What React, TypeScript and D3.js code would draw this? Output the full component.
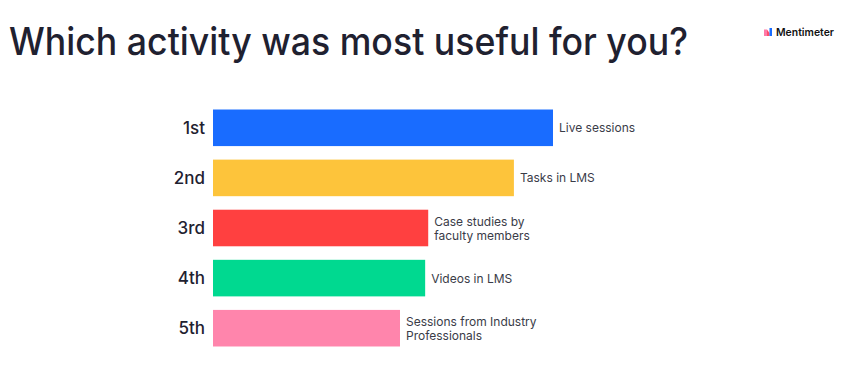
import * as d3 from 'd3';

// ranking results (relative score)
const ranks = ['1st', '2nd', '3rd', '4th', '5th'];
const options = [
  ['Live sessions'],
  ['Tasks in LMS'],
  ['Case studies by', 'faculty members'],
  ['Videos in LMS'],
  ['Sessions from Industry', 'Professionals'],
];
const scores = [100, 88.5, 63.3, 62.4, 55];
const colors = ['#196cff', '#fdc43b', '#ff4040', '#00d990', '#ff85ac'];

const W = 845;
const H = 391;

export default function App() {
  const x = d3.scaleLinear().domain([0, 100]).range([213, 553]);
  const y = d3.scaleBand<number>().domain(d3.range(ranks.length)).range([103, 353]).paddingInner(0.27).paddingOuter(0.13);

  return (
    <svg width={W} height={H} style={{ position: 'absolute', left: 0, top: 0, background: '#fff' }}
      fontFamily="Inter, 'Noto Sans', sans-serif">
      <text x={9} y={55} fontSize={38} fill="#1f2130" fontWeight={500}
        textLength={679} lengthAdjust="spacingAndGlyphs">
        Which activity was most useful for you?
      </text>

      {/* Mentimeter logo */}
      <g transform="translate(764,28)">
        <rect x={0} y={1.5} width={3} height={6.5} fill="#ff7aa8" />
        <path d="M3,1.5 L5.5,5 L5.5,8 L3,8 Z" fill="#ff4d6d" />
        <rect x={5.5} y={0} width={2.5} height={8} fill="#196cff" />
      </g>
      <text x={776} y={36} fontSize={11} fill="#101010" fontWeight={600}
        textLength={58} lengthAdjust="spacingAndGlyphs">Mentimeter</text>

      {ranks.map((r, i) => {
        const y0 = y(i)!;
        const bh = y.bandwidth();
        const cy = y0 + bh / 2;
        const lines = options[i];
        return (
          <g key={r}>
            <text x={205} y={cy + 6} textAnchor="end" fontSize={17} fill="#1f2130" fontWeight={500}>{r}</text>
            <rect x={x(0)} y={y0} width={x(scores[i]) - x(0)} height={bh} fill={colors[i]} />
            {lines.map((l, j) => (
              <text key={j} x={x(scores[i]) + 6} y={cy + 4.5 + (j - (lines.length - 1) / 2) * 14}
                fontSize={12} fill="#3a3c48">{l}</text>
            ))}
          </g>
        );
      })}
    </svg>
  );
}
